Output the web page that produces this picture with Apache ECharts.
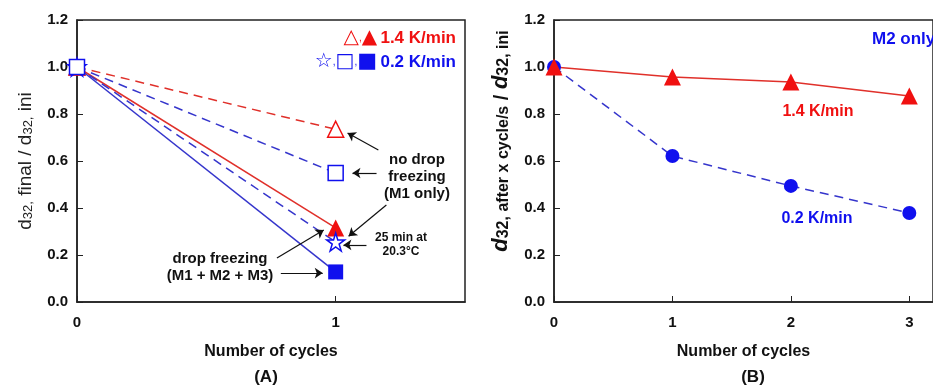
<!DOCTYPE html>
<html>
<head>
<meta charset="utf-8">
<script src="https://cdn.jsdelivr.net/npm/echarts@6/dist/echarts.min.js"></script>
<style>
  html, body { margin: 0; padding: 0; background: #fff; }
  #chart { width: 933px; height: 388px; }
</style>
</head>
<body>
<div id="chart"></div>
<script>
  // panel A : one cycle, 5 runs
  var cyclesA = [0, 1];
  var noFreeze14 = [1.0, 0.735];   // open triangle, dashed red
  var noFreeze02 = [1.0, 0.549];   // open square, dashed blue
  var freeze14 = [1.0, 0.315];     // filled triangle, solid red
  var hold02 = [1.0, 0.255];       // star, dashed blue (25 min at 20.3 C)
  var freeze02 = [1.0, 0.128];     // filled square, solid blue

  // panel B : M2 only
  var cyclesB = [0, 1, 2, 3];
  var m2Rate14 = [1.0, 0.957, 0.936, 0.877];
  var m2Rate02 = [1.0, 0.621, 0.494, 0.379];

  var RED = '#f01010';
  var BLUE = '#1010ee';
  var RED_LINE = '#e0302a';
  var BLUE_LINE = '#3535cc';
  var FONT = '"Liberation Sans", Arial, sans-serif';
  var STAR = 'path://M50,2 L61,36 L97,36 L68,57 L79,92 L50,71 L21,92 L32,57 L3,36 L39,36 Z';

  function pairs(xs, ys) {
    var out = [];
    for (var i = 0; i < xs.length; i++) out.push([xs[i], ys[i]]);
    return out;
  }

  function arrow(x1, y1, x2, y2) {
    return [{coord: [x1, y1]}, {coord: [x2, y2]}];
  }

  var chart = echarts.init(document.getElementById('chart'));

  var axisLabel = {color: '#111', fontFamily: FONT, fontWeight: 'bold', fontSize: 15};

  var yAxisBase = function (gridIndex, name, nameRich, nameGap, namePad) {
    return {
      type: 'value', gridIndex: gridIndex, min: 0, max: 1.2, interval: 0.2,
      axisLine: {show: true, lineStyle: {color: '#222', width: 1.5}},
      axisTick: {show: true, inside: true, length: 6, lineStyle: {color: '#222'}},
      axisLabel: Object.assign({}, axisLabel, {margin: 9, formatter: function (v) { return v.toFixed(1); }}),
      splitLine: {show: false},
      name: name, nameLocation: 'middle', nameGap: nameGap, nameRotate: 90,
      nameTextStyle: {rich: nameRich, padding: namePad}
    };
  };

  var xAxisBase = function (gridIndex, max) {
    return {
      type: 'value', gridIndex: gridIndex, min: 0, max: max, interval: 1,
      axisLine: {show: true, onZero: false, lineStyle: {color: '#222', width: 1.5}},
      axisTick: {show: true, inside: true, length: 6, lineStyle: {color: '#222'}},
      axisLabel: Object.assign({}, axisLabel, {margin: 13, showMaxLabel: false}),
      splitLine: {show: false},
      name: 'Number of cycles', nameLocation: 'middle', nameGap: 42,
      nameTextStyle: {color: '#111', fontFamily: FONT, fontWeight: 'bold', fontSize: 16}
    };
  };

  var richA = {
    m: {fontFamily: FONT, fontSize: 19, color: '#222', lineHeight: 22, verticalAlign: 'bottom'},
    s: {fontFamily: FONT, fontSize: 13, color: '#222', lineHeight: 10, verticalAlign: 'bottom'}
  };
  var richB = {
    m: {fontFamily: FONT, fontSize: 22, fontWeight: 'bold', fontStyle: 'italic', color: '#111', lineHeight: 24, verticalAlign: 'bottom'},
    n: {fontFamily: FONT, fontSize: 20, fontWeight: 'bold', color: '#111', lineHeight: 24, verticalAlign: 'bottom'},
    s: {fontFamily: FONT, fontSize: 16, fontWeight: 'bold', color: '#111', lineHeight: 12, verticalAlign: 'bottom'}
  };

  var lineSeries = function (idx, data, color, lineColor, dashed, symbol, size, filled) {
    return {
      type: 'line', xAxisIndex: idx, yAxisIndex: idx, data: data,
      symbol: symbol, symbolSize: size, showAllSymbol: true, clip: false,
      lineStyle: {color: lineColor, width: 1.5, type: dashed ? [9, 6] : 'solid'},
      itemStyle: {color: filled ? color : '#fff', borderColor: color, borderWidth: filled ? 0 : 1.5},
      emphasis: {disabled: true}
    };
  };

  var arrows = lineSeries(0, pairs(cyclesA, freeze02), BLUE, BLUE_LINE, false, 'rect', 15, true);
  arrows.markLine = {
    silent: true, symbol: ['none', 'arrow'], symbolSize: 8,
    label: {show: false},
    emphasis: {disabled: true},
    lineStyle: {color: '#111', width: 1.2, type: 'solid'},
    data: [
      arrow(1.165, 0.647, 1.046, 0.719),
      arrow(1.158, 0.549, 1.065, 0.549),
      arrow(1.196, 0.413, 1.05, 0.28),
      arrow(1.119, 0.243, 1.03, 0.243),
      arrow(0.773, 0.187, 0.954, 0.306),
      arrow(0.788, 0.123, 0.95, 0.123)
    ]
  };

  var txt = function (x, y, text, color, size, align, weight) {
    return {
      type: 'text', x: x, y: y, silent: true,
      style: {text: text, fill: color, font: (weight || 'bold') + ' ' + size + 'px ' + FONT,
        textAlign: align || 'center', textVerticalAlign: 'middle', lineHeight: size + 2}
    };
  };

  var option = {
    animation: false,
    backgroundColor: '#fff',
    grid: [
      {left: 77, top: 20, width: 388, height: 282, show: true, borderColor: '#222', borderWidth: 1.5, backgroundColor: 'transparent'},
      {left: 554, top: 20, right: -11, height: 282, show: true, borderColor: '#222', borderWidth: 1.5, backgroundColor: 'transparent'}
    ],
    xAxis: [xAxisBase(0, 1.5), xAxisBase(1, 3.2)],
    yAxis: [
      yAxisBase(0, '{m|d}{s|32,}{m| final / d}{s|32,}{m| ini}', richA, 42, 0),
      yAxisBase(1, '{m|d}{s|32, after x cycle/s}{n| / }{m|d}{s|32, ini}', richB, 42, [0, 0, 0, 40])
    ],
    series: [
      lineSeries(0, pairs(cyclesA, noFreeze14), RED, RED_LINE, true, 'triangle', 16, false),
      lineSeries(0, pairs(cyclesA, freeze14), RED, RED_LINE, false, 'triangle', 17, true),
      arrows,
      lineSeries(0, pairs(cyclesA, hold02), BLUE, BLUE_LINE, true, STAR, 18, false),
      lineSeries(0, pairs(cyclesA, noFreeze02), BLUE, BLUE_LINE, true, 'rect', 15, false),
      lineSeries(1, pairs(cyclesB, m2Rate02), BLUE, BLUE_LINE, true, 'circle', 14, true),
      lineSeries(1, pairs(cyclesB, m2Rate14), RED, RED_LINE, false, 'triangle', 17, true)
    ],
    graphic: [
      {
        type: 'text', x: 456, y: 38, silent: true,
        style: {
          text: '{o|△}{c|,}{f|▲} {t|1.4 K/min}', align: 'right', verticalAlign: 'middle',
          rich: {
            o: {fill: RED, fontSize: 20, fontFamily: 'DejaVu Sans'},
            f: {fill: RED, fontSize: 20, fontFamily: 'DejaVu Sans'},
            c: {fill: RED, fontSize: 10, fontFamily: FONT},
            t: {fill: RED, fontSize: 17, fontWeight: 'bold', fontFamily: FONT}
          }
        }
      },
      {
        type: 'text', x: 456, y: 62, silent: true,
        style: {
          text: '{o|☆}{c|,}{o|□}{c|,}{f|■} {t|0.2 K/min}', align: 'right', verticalAlign: 'middle',
          rich: {
            o: {fill: BLUE, fontSize: 20, fontFamily: 'DejaVu Sans'},
            f: {fill: BLUE, fontSize: 21, fontFamily: 'DejaVu Sans'},
            c: {fill: BLUE, fontSize: 10, fontFamily: FONT},
            t: {fill: BLUE, fontSize: 17, fontWeight: 'bold', fontFamily: FONT}
          }
        }
      },
      txt(417, 177, 'no drop\nfreezing\n(M1 only)', '#111', 15),
      txt(401, 245, '25 min at\n20.3°C', '#111', 12),
      txt(220, 267, 'drop freezing\n(M1 + M2 + M3)', '#111', 15),
      txt(872, 39, 'M2 only', BLUE, 17, 'left'),
      txt(818, 112, '1.4 K/min', RED, 16),
      txt(817, 219, '0.2 K/min', BLUE, 16),
      txt(266, 377, '(A)', '#111', 17),
      txt(753, 377, '(B)', '#111', 17)
    ]
  };

  chart.setOption(option);
</script>
</body>
</html>
